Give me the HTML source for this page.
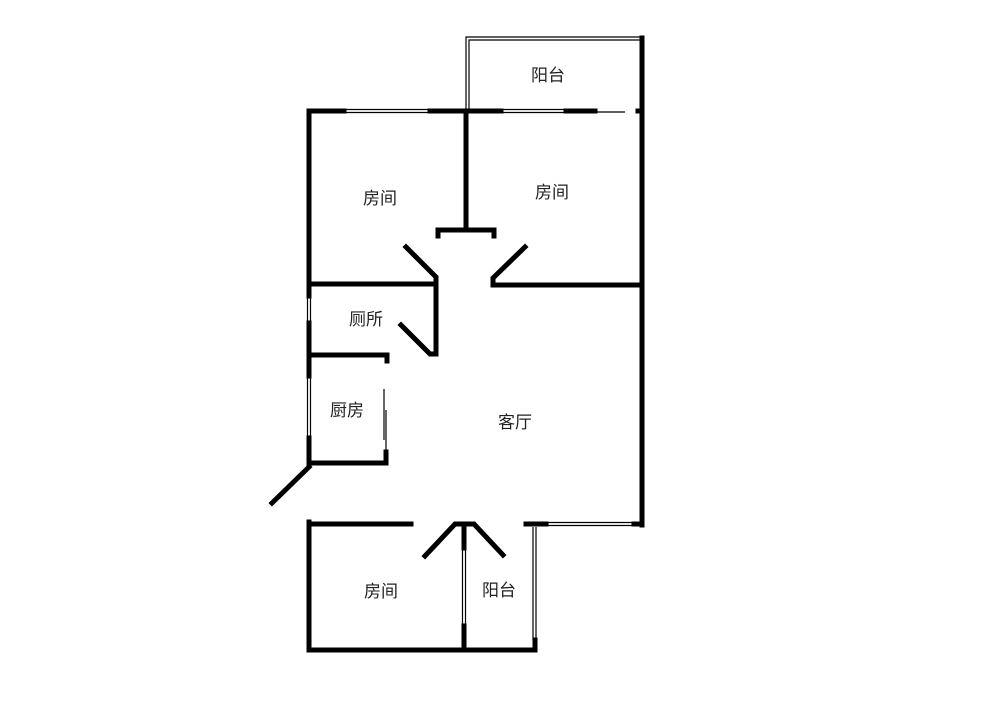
<!DOCTYPE html>
<html><head><meta charset="utf-8"><style>
html,body{margin:0;padding:0;background:#fff;width:1000px;height:710px;overflow:hidden}
text{font-family:"Liberation Sans","Noto Sans CJK SC",sans-serif;font-size:17px;fill:#222}
</style></head><body>
<svg width="1000" height="710" viewBox="0 0 1000 710" xmlns="http://www.w3.org/2000/svg">
<g fill="none" stroke="#000" stroke-width="5" stroke-linecap="square">
<!-- top wall -->
<line x1="309" y1="111" x2="344" y2="111"/>
<line x1="430" y1="111" x2="501" y2="111"/>
<line x1="566" y1="111" x2="595" y2="111"/>
<line x1="638" y1="111" x2="642" y2="111"/>
<!-- right wall -->
<line x1="642" y1="38" x2="642" y2="525"/>
<!-- left wall segments -->
<line x1="309" y1="111" x2="309" y2="296"/>
<line x1="309" y1="323" x2="309" y2="376"/>
<line x1="309" y1="438" x2="309" y2="465"/>
<!-- room divider + T -->
<line x1="466" y1="111" x2="466" y2="230"/>
<polyline points="438,236 438,230 494,230 494,236"/>
<!-- doors top -->
<polyline points="406,247 436,277 436,284"/>
<line x1="309" y1="284" x2="436" y2="284"/>
<polyline points="525,247 493,278 493,285 642,285"/>
<!-- toilet -->
<line x1="436" y1="284" x2="436" y2="354"/>
<polyline points="401,325 430,354 436,354"/>
<polyline points="309,355 387,355 387,361"/>
<!-- kitchen -->
<polyline points="309,463 386,463 386,452"/>
<line x1="309" y1="467" x2="272" y2="503"/>
<!-- bottom -->
<line x1="309" y1="524" x2="411" y2="524"/>
<line x1="309" y1="522" x2="309" y2="650"/>
<line x1="309" y1="650" x2="535" y2="650"/>
<polyline points="425,556 455,524 474,524 503,555"/>
<line x1="464" y1="524" x2="464" y2="548"/>
<line x1="464" y1="626" x2="464" y2="650"/>
<line x1="535" y1="640" x2="535" y2="650"/>
<line x1="526" y1="524" x2="546" y2="524"/>
<line x1="634" y1="524" x2="642" y2="524"/>
</g>
<g fill="none" stroke="#000" stroke-width="1.2">
<!-- balcony outline double -->
<polyline points="466,109 466,37 640,37"/>
<polyline points="469,109 469,40 640,40"/>
<!-- windows -->
<line x1="344" y1="109.5" x2="430" y2="109.5"/><line x1="344" y1="112.5" x2="430" y2="112.5"/>
<line x1="501" y1="109.5" x2="566" y2="109.5"/><line x1="501" y1="112.5" x2="566" y2="112.5"/>
<line x1="595" y1="112" x2="625" y2="112"/>
<line x1="307.5" y1="296" x2="307.5" y2="323"/><line x1="310.5" y1="296" x2="310.5" y2="323"/>
<line x1="307.5" y1="376" x2="307.5" y2="438"/><line x1="310.5" y1="376" x2="310.5" y2="438"/>
<line x1="384" y1="389" x2="384" y2="440"/><line x1="386" y1="410" x2="386" y2="452"/>
<line x1="462.5" y1="548" x2="462.5" y2="626"/><line x1="465.5" y1="548" x2="465.5" y2="626"/>
<line x1="533" y1="527" x2="533" y2="640"/><line x1="536" y1="527" x2="536" y2="640"/>
<line x1="546" y1="522.5" x2="634" y2="522.5"/><line x1="546" y1="525.5" x2="634" y2="525.5"/>
</g>
<text x="548" y="81" text-anchor="middle">阳台</text>
<text x="380" y="204" text-anchor="middle">房间</text>
<text x="552" y="198" text-anchor="middle">房间</text>
<text x="366" y="325" text-anchor="middle">厕所</text>
<text x="347" y="416" text-anchor="middle">厨房</text>
<text x="515" y="428" text-anchor="middle">客厅</text>
<text x="381" y="597" text-anchor="middle">房间</text>
<text x="499" y="596" text-anchor="middle">阳台</text>
</svg>
</body></html>
